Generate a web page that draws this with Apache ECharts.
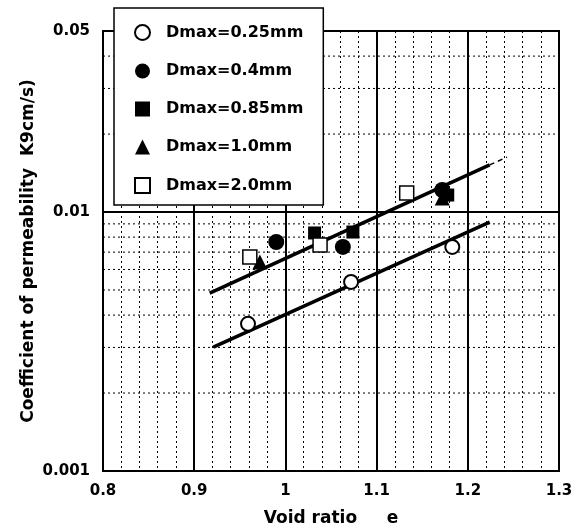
<!DOCTYPE html>
<html>
<head>
<meta charset="utf-8">
<script src="https://cdn.jsdelivr.net/npm/echarts@6/dist/echarts.min.js"></script>
<style>html,body{margin:0;padding:0;background:#fff;}#c{width:580px;height:532px;}</style>
</head>
<body>
<div id="c"></div>
<script>
// ---- data ----
const seriesNames = ['Dmax=0.25mm', 'Dmax=0.4mm', 'Dmax=0.85mm', 'Dmax=1.0mm', 'Dmax=2.0mm'];
const d025x = [0.959, 1.072, 1.183];
const d025y = [0.00370, 0.00537, 0.00733];
const d04x = [0.990, 1.063, 1.172];
const d04y = [0.00766, 0.00733, 0.01216];
const d085x = [1.032, 1.074, 1.178];
const d085y = [0.00830, 0.00837, 0.01163];
const d10x = [0.972, 1.172];
const d10y = [0.00641, 0.01132];
const d20x = [0.961, 1.038, 1.133];
const d20y = [0.00670, 0.00746, 0.01184];
// fitted lines
const upperLineX = [0.917, 1.224];
const upperLineY = [0.00486, 0.0152];
const upperDashX = [1.224, 1.243];
const upperDashY = [0.0152, 0.0163];
const lowerLineX = [0.921, 1.224];
const lowerLineY = [0.00301, 0.00914];
// axis ticks
const xMin = 0.8, xMax = 1.3, xStep = 0.1;
const yMin = 0.001, yMax = 0.05;
const yTickLabels = [0.001, 0.01, 0.05];
const yMinorGrid = [0.002, 0.003, 0.004, 0.005, 0.006, 0.007, 0.008, 0.009, 0.02, 0.03, 0.04];
const yMajorGrid = [0.01];

const zip = (xs, ys) => xs.map((x, i) => [x, ys[i]]);
const FONT = 'DejaVu Sans';

const symbolDefs = [
  {symbol: 'circle', size: 14, fill: '#fff', bw: 2},
  {symbol: 'circle', size: 16, fill: '#000', bw: 0},
  {symbol: 'rect', size: 13, fill: '#000', bw: 0},
  {symbol: 'triangle', size: 15, fill: '#000', bw: 0},
  {symbol: 'rect', size: 14, fill: '#fff', bw: 1.5}
];
const dataSets = [zip(d025x, d025y), zip(d04x, d04y), zip(d085x, d085y), zip(d10x, d10y), zip(d20x, d20y)];

const scatterSeries = seriesNames.map((n, i) => ({
  name: n,
  type: 'scatter',
  data: dataSets[i],
  symbol: symbolDefs[i].symbol,
  symbolSize: symbolDefs[i].size,
  itemStyle: {color: symbolDefs[i].fill, borderColor: '#000', borderWidth: symbolDefs[i].bw, opacity: 1},
  z: 5
}));

const gridLineSeries = yMinorGrid.map(v => ({
  type: 'line', data: [[xMin, v], [xMax, v]], symbol: 'none', silent: true, z: 1,
  lineStyle: {color: '#000', width: 1, type: [2, 3]}
})).concat(yMajorGrid.map(v => ({
  type: 'line', data: [[xMin, v], [xMax, v]], symbol: 'none', silent: true, z: 1,
  lineStyle: {color: '#000', width: 2, type: 'solid'}
})));

const chart = echarts.init(document.getElementById('c'), null, {renderer: 'canvas'});
chart.setOption({
  animation: false,
  backgroundColor: '#fff',
  grid: {left: 103, right: 21, top: 31, bottom: 61, show: true, borderColor: '#000', borderWidth: 2, backgroundColor: 'transparent'},
  legend: {
    data: seriesNames,
    orient: 'vertical',
    left: 114, top: 8,
    padding: [16, 20, 11, 20],
    itemWidth: 15, itemHeight: 15, itemGap: 22,
    backgroundColor: '#fff', borderColor: '#000', borderWidth: 1.5, borderRadius: 0,
    textStyle: {fontFamily: FONT, fontSize: 16, fontWeight: 'bold', color: '#000', padding: [0, 0, 0, 11], lineHeight: 16},
    selectedMode: false,
    z: 10
  },
  xAxis: {
    type: 'value', min: xMin, max: xMax, interval: xStep,
    name: 'Void ratio     e', nameLocation: 'middle', nameGap: 39, nameMoveOverlap: false,
    nameTextStyle: {fontFamily: FONT, fontSize: 17, fontWeight: 'bold', color: '#000'},
    axisLine: {show: true, lineStyle: {color: '#000', width: 2}},
    axisTick: {show: false},
    axisLabel: {fontFamily: FONT, fontSize: 15, fontWeight: 'bold', color: '#000', margin: 13,
      formatter: v => String(+v.toFixed(1))},
    splitLine: {show: true, lineStyle: {color: '#000', width: 2}},
    minorTick: {show: false, splitNumber: 5},
    minorSplitLine: {show: true, lineStyle: {color: '#000', width: 1, type: [2, 3]}}
  },
  yAxis: {
    type: 'log', logBase: 10, min: yMin, max: yMax,
    name: 'Coefficient of permeability  K9cm/s)', nameLocation: 'middle', nameGap: 66, nameRotate: 90,
    nameMoveOverlap: false,
    nameTextStyle: {fontFamily: FONT, fontSize: 17, fontWeight: 'bold', color: '#000'},
    axisLine: {show: true, lineStyle: {color: '#000', width: 2}},
    axisTick: {show: false},
    axisLabel: {fontFamily: FONT, fontSize: 15, fontWeight: 'bold', color: '#000', margin: 13,
      customValues: yTickLabels,
      formatter: v => String(+(+v).toPrecision(2))},
    splitLine: {show: false}
  },
  series: gridLineSeries.concat([
    {type: 'line', data: zip(upperLineX, upperLineY), symbol: 'none', lineStyle: {color: '#000', width: 3.5}, z: 4, silent: true},
    {type: 'line', data: zip(upperDashX, upperDashY), symbol: 'none', lineStyle: {color: '#000', width: 1.5, type: [5, 4]}, z: 4, silent: true},
    {type: 'line', data: zip(lowerLineX, lowerLineY), symbol: 'none', lineStyle: {color: '#000', width: 3.5}, z: 4, silent: true}
  ]).concat(scatterSeries)
});
</script>
</body>
</html>
